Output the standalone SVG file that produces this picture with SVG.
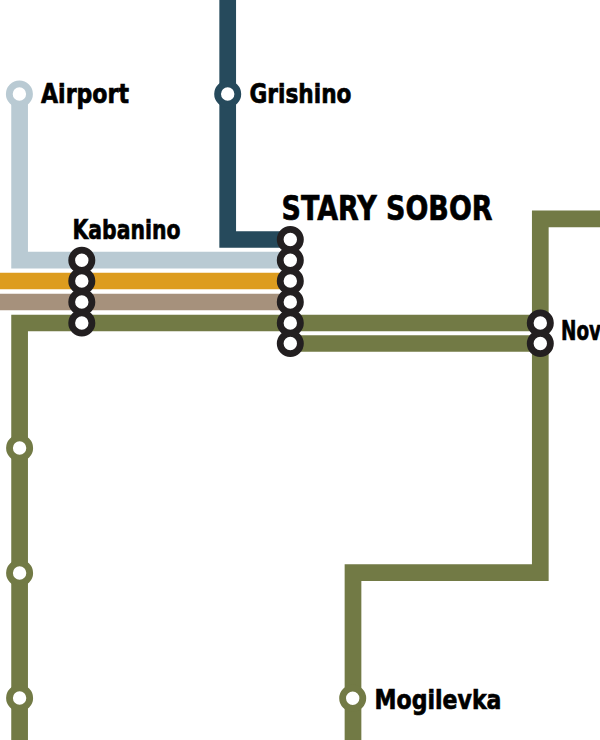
<svg xmlns="http://www.w3.org/2000/svg" width="600" height="740" viewBox="0 0 600 740">
<style>
.l{fill:none;stroke-width:16.7;stroke-linejoin:miter}
.s{fill:#fff;stroke-width:6.8}
.x{stroke:#231f20}
.t{font-family:"DejaVu Sans",sans-serif;font-weight:700;font-size:27px;fill:#000;stroke:#000;stroke-width:.7}
</style>
<rect width="600" height="740" fill="#fff"/>
<g id="connectors">
<path class="l" stroke="#264a5c" d="M227.7 0V239.5H290"/>
<path class="l" stroke="#b9cad3" d="M19.6 94V260.2H290"/>
<path class="l" stroke="#dd9c1e" d="M0 281H290"/>
<path class="l" stroke="#a6917c" d="M0 302H290"/>
<path class="l" stroke="#727a45" d="M19.6 740V323H540"/>
<path class="l" stroke="#727a45" d="M290 343.5H540"/>
<path class="l" stroke="#727a45" d="M600 218.8H540.3V572.7H353V740"/>
</g>
<g id="airport"><circle class="s" stroke="#b9cad3" cx="19.4" cy="94" r="10.1"/><text class="t" x="41" y="103" textLength="88" lengthAdjust="spacingAndGlyphs">Airport</text></g>
<g id="grishino"><circle class="s" stroke="#264a5c" cx="227.7" cy="94" r="10.1"/><text class="t" x="249.5" y="103" textLength="102" lengthAdjust="spacingAndGlyphs">Grishino</text></g>
<g id="kabanino"><circle class="s x" cx="81.8" cy="260.2" r="10.1"/><circle class="s x" cx="81.8" cy="281" r="10.1"/><circle class="s x" cx="81.8" cy="302" r="10.1"/><circle class="s x" cx="81.8" cy="323" r="10.1"/><text class="t" x="72.5" y="239" textLength="108" lengthAdjust="spacingAndGlyphs">Kabanino</text></g>
<g id="stary-sobor"><circle class="s x" cx="290.3" cy="239.5" r="10.1"/><circle class="s x" cx="290.3" cy="260.2" r="10.1"/><circle class="s x" cx="290.3" cy="281" r="10.1"/><circle class="s x" cx="290.3" cy="302" r="10.1"/><circle class="s x" cx="290.3" cy="323" r="10.1"/><circle class="s x" cx="290.3" cy="343.5" r="10.1"/><text class="t" x="281.5" y="219.5" textLength="211" lengthAdjust="spacingAndGlyphs" style="font-size:33px">STARY SOBOR</text></g>
<g id="nov"><circle class="s x" cx="540.3" cy="323" r="10.1"/><circle class="s x" cx="540.3" cy="343.5" r="10.1"/><text class="t" x="561" y="339.5" textLength="40" lengthAdjust="spacingAndGlyphs">Nov</text></g>
<g id="stop-1"><circle class="s" stroke="#727a45" cx="19.6" cy="448" r="10.1"/></g>
<g id="stop-2"><circle class="s" stroke="#727a45" cx="19.6" cy="573" r="10.1"/></g>
<g id="stop-3"><circle class="s" stroke="#727a45" cx="19.6" cy="698" r="10.1"/></g>
<g id="mogilevka"><circle class="s" stroke="#727a45" cx="352.7" cy="698.3" r="10.1"/><text class="t" x="374.5" y="709" textLength="127" lengthAdjust="spacingAndGlyphs">Mogilevka</text></g>
</svg>
